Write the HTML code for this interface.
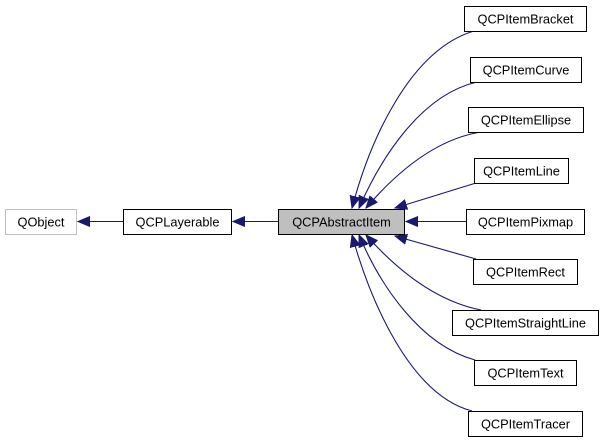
<!DOCTYPE html>
<html><head><meta charset="utf-8"><style>
html,body{margin:0;padding:0;background:#fff}
svg{display:block}
text{font-family:"Liberation Sans",Arial,sans-serif;font-size:12.8px;fill:#000}
</style></head><body>
<svg width="604" height="443" viewBox="0 0 604 443" xmlns="http://www.w3.org/2000/svg">
<defs>
<marker id="a" markerWidth="13" markerHeight="11" refX="12" refY="5.5" orient="auto" markerUnits="userSpaceOnUse">
<path d="M0,0.5 L12,5.5 L0,10.5 Z" fill="#191970" stroke="#191970"/>
</marker>
</defs>
<g fill="none" stroke="#191970" stroke-width="1.1">
<path d="M123,221.5 L78,221.5" marker-end="url(#a)"/>
<path d="M279,221.5 L233,221.5" marker-end="url(#a)"/>
<path d="M466,221.5 L406,221.5" marker-end="url(#a)"/>
<path d="M474,31 C410,50 370,140 352,208" marker-end="url(#a)"/>
<path d="M477,82 C420,95 380,160 359,208" marker-end="url(#a)"/>
<path d="M481,132 C430,140 390,180 366,208" marker-end="url(#a)"/>
<path d="M476,183 L395,208" marker-end="url(#a)"/>
<path d="M476,259 L395,236" marker-end="url(#a)"/>
<path d="M481,310 C430,300 390,262 366,235" marker-end="url(#a)"/>
<path d="M475,360 C420,345 380,285 359,235" marker-end="url(#a)"/>
<path d="M472,411 C410,395 370,300 352,235" marker-end="url(#a)"/>
</g>
<g stroke-width="1">
<rect x="5.5" y="209.5" width="71" height="25" fill="#fff" stroke="#bfbfbf"/>
<rect x="123.5" y="209.5" width="108" height="25" fill="#fff" stroke="#000"/>
<rect x="278.5" y="209.5" width="126" height="25" fill="#bfbfbf" stroke="#000"/>
<rect x="464.5" y="6.5" width="122" height="25" fill="#fff" stroke="#000"/>
<rect x="470.5" y="57.5" width="111" height="25" fill="#fff" stroke="#000"/>
<rect x="468.5" y="107.5" width="115" height="25" fill="#fff" stroke="#000"/>
<rect x="474.5" y="158.5" width="94" height="25" fill="#fff" stroke="#000"/>
<rect x="466.5" y="209.5" width="118" height="25" fill="#fff" stroke="#000"/>
<rect x="473.5" y="259.5" width="104" height="25" fill="#fff" stroke="#000"/>
<rect x="452.5" y="310.5" width="146" height="25" fill="#fff" stroke="#000"/>
<rect x="474.5" y="360.5" width="102" height="25" fill="#fff" stroke="#000"/>
<rect x="468.5" y="411.5" width="114" height="25" fill="#fff" stroke="#000"/>
</g>
<g text-anchor="middle">
<text x="41" y="226.5">QObject</text>
<text x="177.5" y="226.5">QCPLayerable</text>
<text x="341.5" y="226.5">QCPAbstractItem</text>
<text x="525.5" y="23.5">QCPItemBracket</text>
<text x="526" y="74.5">QCPItemCurve</text>
<text x="526" y="124.5">QCPItemEllipse</text>
<text x="521.5" y="175.5">QCPItemLine</text>
<text x="525.5" y="226.5">QCPItemPixmap</text>
<text x="525.5" y="276.5">QCPItemRect</text>
<text x="525.5" y="327.5">QCPItemStraightLine</text>
<text x="525.5" y="377.5">QCPItemText</text>
<text x="525.5" y="428.5">QCPItemTracer</text>
</g>
</svg>
</body></html>
